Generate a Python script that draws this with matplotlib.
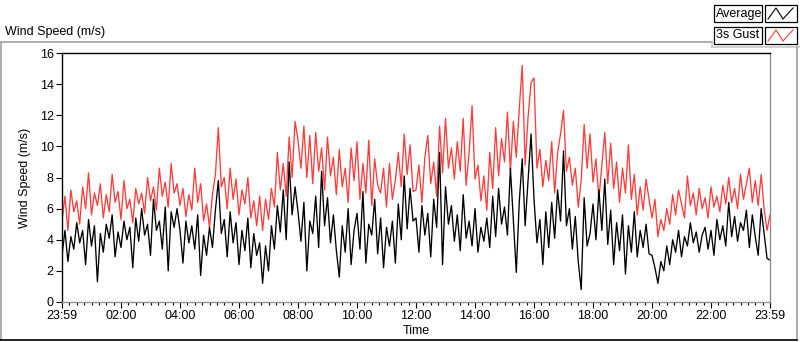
import matplotlib
matplotlib.use("Agg")
import matplotlib.pyplot as plt
from matplotlib.lines import Line2D
from matplotlib.patches import Rectangle
from matplotlib.ticker import MultipleLocator
import numpy as np

# hours after 23:59, one reading every 6 minutes
gust_0_4 = [5.2, 6.8, 4.6, 7.2, 5.8, 6.5, 5.0, 7.4, 6.0, 8.3,
            5.6, 7.0, 6.2, 7.6, 5.4, 6.9, 5.8, 8.2, 6.4, 7.1,
            5.3, 7.8, 6.0, 6.6, 5.1, 7.3, 6.3, 7.0, 5.7, 8.0,
            6.5, 7.4, 5.9, 8.6, 6.8, 7.7, 6.1, 8.9, 7.0, 7.6]
gust_4_8 = [6.2, 7.3, 5.5, 6.9, 5.9, 8.6, 6.4, 7.6, 5.2, 6.3,
            4.8, 6.9, 8.2, 11.2, 7.4, 8.0, 6.0, 8.6, 6.6, 7.9,
            5.6, 7.2, 6.3, 8.0, 5.4, 6.5, 4.9, 6.8, 4.6, 6.6,
            5.3, 7.3, 6.1, 9.6, 7.2, 8.9, 6.8, 10.6, 8.0, 11.6]
gust_8_12 = [10.4, 8.6, 11.3, 8.0, 10.7, 7.6, 10.9, 8.4, 9.9, 7.2,
             10.6, 8.1, 9.3, 6.9, 9.8, 7.4, 8.6, 6.4, 9.9, 7.8,
             10.3, 6.6, 8.9, 7.0, 10.4, 6.2, 9.2, 7.5, 7.0, 8.6,
             6.1, 8.9, 6.6, 7.8, 9.6, 7.4, 10.8, 8.2, 10.1, 7.1]
gust_12_16 = [7.2, 8.8, 6.4, 9.3, 10.7, 7.6, 9.0, 6.8, 11.3, 8.3,
              11.8, 8.6, 9.9, 7.9, 10.3, 8.4, 11.8, 7.5, 9.6, 12.6,
              7.9, 8.8, 6.5, 8.1, 5.9, 9.6, 7.3, 11.2, 8.1, 10.5,
              9.0, 12.2, 8.4, 11.6, 9.3, 12.4, 15.2, 8.8, 11.9, 14.1]
gust_16_20 = [14.4, 8.6, 9.8, 7.4, 9.1, 7.8, 10.3, 7.0, 9.6, 10.8,
              12.3, 8.4, 9.3, 7.5, 8.6, 6.1, 7.8, 11.4, 8.6, 10.8,
              7.7, 9.2, 6.6, 8.8, 10.9, 7.6, 10.2, 7.3, 9.0, 6.4,
              8.6, 7.0, 10.1, 6.6, 8.2, 5.6, 7.4, 5.9, 7.9, 6.6]
gust_20_24 = [5.4, 6.6, 4.2, 5.3, 4.6, 6.0, 5.0, 6.9, 5.6, 7.2,
              6.3, 5.4, 8.1, 6.2, 7.0, 5.6, 7.3, 6.0, 6.7, 5.4,
              7.4, 6.1, 6.8, 5.8, 7.5, 6.3, 8.0, 6.4, 7.3, 6.0,
              8.2, 6.6, 7.6, 8.6, 6.4, 7.8, 6.2, 8.2, 6.0, 4.6, 5.6]

avg_0_4 = [3.0, 4.6, 2.6, 4.2, 3.4, 5.1, 3.8, 4.6, 2.4, 5.3,
           3.6, 4.9, 1.3, 4.4, 3.2, 5.0, 4.1, 5.6, 2.9, 4.5,
           3.5, 5.2, 4.0, 4.8, 2.2, 5.4, 3.9, 6.0, 4.3, 5.0,
           3.0, 6.6, 4.6, 5.2, 3.4, 6.1, 2.0, 5.8, 4.8, 6.0]
avg_4_8 = [4.6, 2.5, 5.2, 3.8, 4.9, 3.4, 5.6, 1.7, 4.3, 3.0,
           4.8, 3.5, 5.9, 7.8, 4.4, 5.3, 2.9, 5.8, 3.8, 5.1,
           2.4, 4.6, 3.3, 5.4, 2.2, 4.4, 3.0, 3.8, 1.2, 3.6,
           2.0, 4.9, 3.4, 6.2, 4.5, 7.2, 4.0, 9.0, 5.6, 7.4]
avg_8_12 = [5.8, 3.9, 6.4, 2.0, 5.2, 4.4, 6.8, 3.5, 8.4, 4.9,
            6.7, 3.8, 5.6, 3.3, 1.6, 4.9, 3.2, 6.0, 2.4, 4.6,
            5.7, 3.4, 7.1, 2.5, 5.0, 4.3, 6.6, 3.1, 5.4, 2.2,
            4.8, 3.6, 5.2, 2.5, 6.3, 4.0, 8.1, 4.7, 7.3, 5.2]
avg_12_16 = [5.4, 3.2, 6.2, 4.3, 5.7, 2.9, 6.6, 4.8, 9.6, 2.4,
             7.4, 5.0, 6.2, 3.9, 5.6, 3.3, 6.9, 4.1, 5.2, 3.6,
             6.0, 3.2, 4.8, 3.9, 5.4, 3.5, 6.8, 4.2, 7.3, 5.0,
             6.1, 4.3, 8.6, 5.2, 1.9, 6.4, 9.2, 4.9, 7.8, 10.8]
avg_16_20 = [6.6, 3.8, 5.3, 2.4, 5.8, 3.5, 6.4, 4.1, 7.2, 5.2,
             9.7, 4.9, 6.0, 3.4, 5.5, 2.6, 0.8, 6.7, 3.6, 4.4,
             6.3, 4.0, 7.2, 4.6, 7.9, 3.7, 5.9, 2.4, 5.1, 3.3,
             5.6, 1.8, 4.9, 3.2, 5.8, 2.9, 4.6, 3.5, 5.0, 3.1]
avg_20_24 = [3.0, 2.2, 1.2, 2.6, 2.0, 3.6, 2.4, 4.0, 3.2, 4.6,
             2.9, 4.2, 3.6, 5.1, 3.8, 4.5, 3.2, 4.3, 4.8, 3.4,
             4.6, 3.0, 5.3, 4.0, 4.9, 3.6, 6.4, 4.2, 5.5, 3.9,
             5.1, 4.6, 5.9, 3.5, 5.6, 4.2, 3.0, 6.0, 4.4, 2.8, 2.7]

tick_labels = ["23:59", "02:00", "04:00", "06:00", "08:00", "10:00", "12:00",
               "14:00", "16:00", "18:00", "20:00", "22:00", "23:59"]


def main():
    plt.rcParams['font.family'] = ['Liberation Sans', 'DejaVu Sans']
    gust = np.array(gust_0_4 + gust_4_8 + gust_8_12 + gust_12_16 + gust_16_20 + gust_20_24)
    avg = np.array(avg_0_4 + avg_4_8 + avg_8_12 + avg_12_16 + avg_16_20 + avg_20_24)
    hours = np.linspace(0, 24, len(gust))

    fig = plt.figure(figsize=(8, 3.42), dpi=100)
    ax = fig.add_axes([62 / 800, 40 / 342, 708 / 800, 249 / 342])

    ax.plot(hours, gust, color="#ff3c3c", lw=0.95)
    ax.plot(hours, avg, color="black", lw=0.95)

    ax.set_xlim(0, 24)
    ax.set_ylim(0, 16)
    ax.set_xticks(np.arange(0, 25, 2))
    ax.set_xticklabels(tick_labels)
    ax.xaxis.set_minor_locator(MultipleLocator(0.25))
    ax.set_yticks(np.arange(0, 17, 2))
    ax.tick_params(axis="both", labelsize=9, direction="out", length=4, width=0.8, pad=2)
    ax.tick_params(axis="x", which="minor", length=2.5, width=0.8)
    ax.set_xlabel("Time", fontsize=9, labelpad=2)
    ax.set_ylabel("Wind Speed (m/s)", fontsize=9, labelpad=6)

    for side in ["top", "left"]:
        ax.spines[side].set_color("black")
    for side in ["bottom", "right"]:
        ax.spines[side].set_color("#909090")
    for s in ax.spines.values():
        s.set_linewidth(1.0)

    # panel frame and title
    fig.text(5 / 800, 1 - 32 / 342, "Wind Speed (m/s)", fontsize=9, va="center", ha="left")
    fig.add_artist(Line2D([0, 712 / 800], [1 - 42 / 342] * 2, color="#a0a0a0", lw=1.2))
    fig.add_artist(Line2D([712 / 800, 1], [1 - 47 / 342] * 2, color="#c8c8c8", lw=1.2))
    fig.add_artist(Line2D([712 / 800] * 2, [1 - 42 / 342, 1 - 47 / 342], color="#c8c8c8", lw=1.2))
    fig.add_artist(Line2D([1 / 800] * 2, [2 / 342, 1 - 42 / 342], color="#a0a0a0", lw=1.2))
    fig.add_artist(Line2D([797 / 800] * 2, [2 / 342, 1 - 47 / 342], color="#a0a0a0", lw=1.2))
    fig.add_artist(Line2D([0, 797 / 800], [2 / 342] * 2, color="black", lw=1.2))

    # legend boxes
    for row, (name, col) in enumerate([("Average", "black"), ("3s Gust", "#ff3c3c")]):
        top = 5 + row * 22
        fig.add_artist(Rectangle((714 / 800, 1 - (top + 17) / 342), 48 / 800, 17 / 342,
                                 facecolor="white", edgecolor="black", lw=0.9))
        fig.text(716 / 800, 1 - (top + 8.5) / 342, name, fontsize=9, va="center", ha="left")
        fig.add_artist(Rectangle((765 / 800, 1 - (top + 17) / 342), 32 / 800, 17 / 342,
                                 facecolor="white", edgecolor="black", lw=0.9))
        zx = np.array([768, 776, 783, 793]) / 800
        zy = 1 - (top + np.array([14, 3, 14, 3])) / 342
        fig.add_artist(Line2D(zx, zy, color=col, lw=0.8))

    fig.savefig("out.png", dpi=100)


if __name__ == "__main__":
    main()
